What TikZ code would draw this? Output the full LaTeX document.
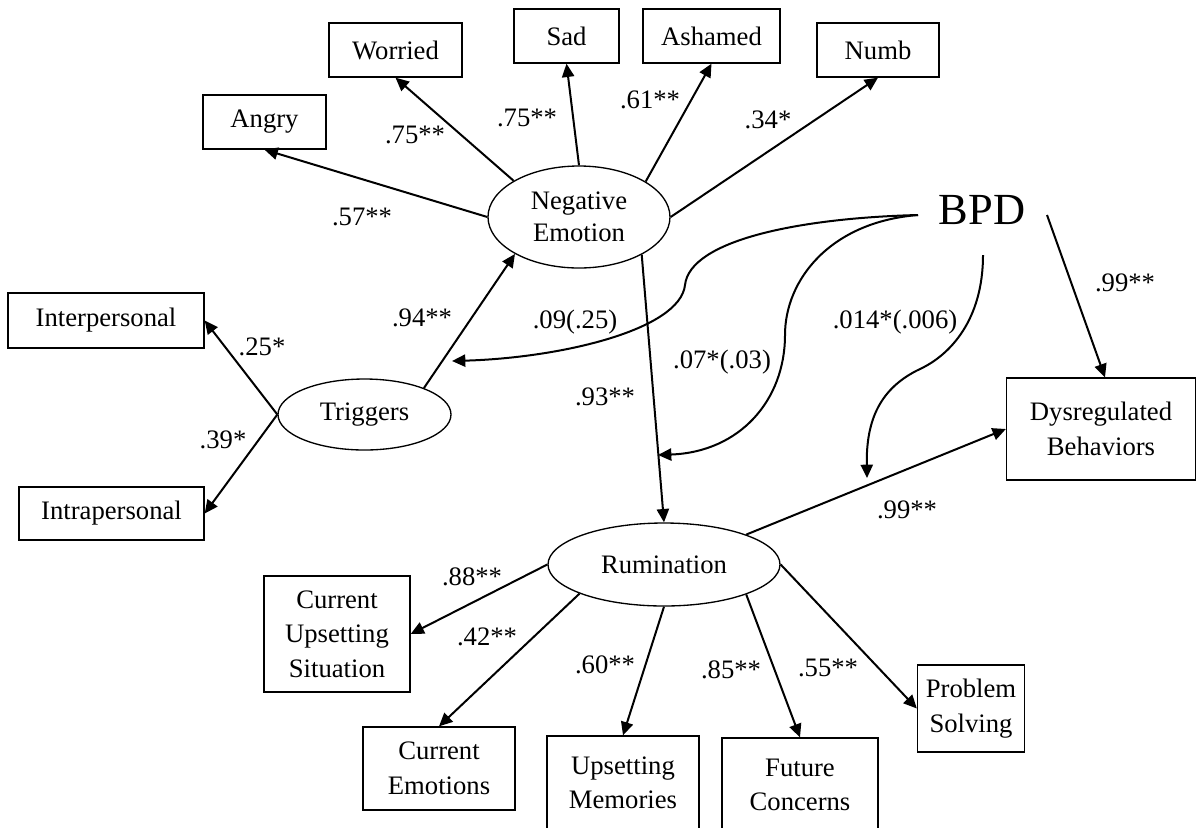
\documentclass[tikz,border=0pt]{standalone}
\usepackage{fontspec}
\setmainfont{Liberation Serif}
\usetikzlibrary{arrows.meta,shapes.geometric}
\newcommand{\px}{0.45pt}

\begin{document}
\begin{tikzpicture}[x=0.45pt,y=-0.45pt,->,>={Triangle[length=6pt,width=5.5pt]},line width=0.9pt,
    box/.style={draw,rectangle,line width=0.6pt,inner sep=0pt,align=center,font=\fontsize{12}{15.5}\selectfont},
    latent/.style={draw,ellipse,line width=0.6pt,inner sep=0pt,align=center,font=\fontsize{12}{14.5}\selectfont},
    coef/.style={inner sep=0pt,font=\fontsize{12}{14}\selectfont}]
	\useasboundingbox (0,0) rectangle (1199,827);
	\clip (0,0) rectangle (1199,827);

	% indicators of negative emotion
	\node[box,minimum width=123*\px,minimum height=54*\px] (angry) at (264.5,122) {Angry};
	\node[box,minimum width=133*\px,minimum height=54*\px] (worried) at (395.5,50) {Worried};
	\node[box,minimum width=105*\px,minimum height=54*\px] (sad) at (566.5,36) {Sad};
	\node[box,minimum width=137*\px,minimum height=54*\px] (ashamed) at (711.5,36) {Ashamed};
	\node[box,minimum width=122*\px,minimum height=54*\px] (numb) at (878,50) {Numb};

	\node[latent,minimum width=182*\px,minimum height=102*\px] (ne) at (579,217) {Negative\\Emotion};
	\node[inner sep=0pt,font=\fontsize{20}{24}\selectfont] (bpd) at (982,210) {BPD};

	\node[box,minimum width=196*\px,minimum height=55*\px] (inter) at (106,320.5) {Interpersonal};
	\node[box,minimum width=185*\px,minimum height=53*\px] (intra) at (111.5,513.5) {Intrapersonal};
	\node[latent,minimum width=173*\px,minimum height=71*\px] (trig) at (364.5,414.5) {Triggers};

	\node[box,minimum width=189*\px,minimum height=102*\px] (dys) at (1101,429) {Dysregulated\\Behaviors};
	\node[latent,minimum width=232*\px,minimum height=83*\px] (rum) at (664,564.5) {Rumination};

	% indicators of rumination
	\node[box,minimum width=146*\px,minimum height=116*\px] (cus) at (337,634) {Current\\Upsetting\\Situation};
	\node[box,minimum width=152*\px,minimum height=83*\px] (ce) at (439,768.5) {Current\\Emotions};
	\node[box,minimum width=152*\px,minimum height=94*\px] (um) at (623,783) {Upsetting\\Memories};
	\node[box,minimum width=156*\px,minimum height=94*\px] (fc) at (800,785) {Future\\Concerns};
	\node[box,minimum width=107*\px,minimum height=87*\px] (ps) at (971,708.5) {Problem\\Solving};

	\coordinate (bpdw) at (918,215);
	\coordinate (bpds) at (983,255);
	\coordinate (bpde) at (1047,215);
	\coordinate (modtn) at (452,361);
	\coordinate (modnr) at (658,455);
	\coordinate (modrd) at (867,478);

	\draw (ne.west) -- (angry.south);
	\draw (ne.151) -- (worried.south);
	\draw (ne.north) -- (sad.south);
	\draw (ne.28) -- (ashamed.south);
	\draw (ne.east) -- (numb.south);

	\draw (trig.24) -- (ne.-150);
	\draw (trig.west) -- (inter.east);
	\draw (trig.west) -- (intra.east);

	\draw (ne.-31) -- (rum.north);
	\draw (rum.20) -- (dys.west);
	\draw (bpde) -- ([xshift=1.8pt]dys.north);

	\draw (rum.west) -- (cus.east);
	\draw (rum.-161) -- (ce.north);
	\draw (rum.south) -- (um.north);
	\draw (rum.-20) -- (fc.north);
	\draw (rum.east) -- (ps.west);

	% moderation paths from BPD
	\draw (bpdw) .. controls (800,218) and (690,240) .. (685,285) .. controls (680,330) and (560,358) .. (modtn);
	\draw (bpdw) .. controls (830,222) and (785,280) .. (785,335) .. controls (785,400) and (740,452) .. (modnr);
	\draw (bpds) .. controls (983,320) and (950,355) .. (920,369) .. controls (880,388) and (866,420) .. (modrd);

	\node[coef] (l1) at (362,217) {.57**};
	\node[coef] (l2) at (415,135) {.75**};
	\node[coef] (l3) at (527,118) {.75**};
	\node[coef] (l4) at (650,100) {.61**};
	\node[coef] (l5) at (768,120) {.34*};
	\node[coef] (l6) at (262,347) {.25*};
	\node[coef] (l7) at (223,440) {.39*};
	\node[coef] (l8) at (422,318) {.94**};
	\node[coef] (l9) at (575,322) {.09(.25)};
	\node[coef] (l10) at (722,362) {.07*(.03)};
	\node[coef] (l11) at (605,397) {.93**};
	\node[coef] (l12) at (895,322) {.014*(.006)};
	\node[coef] (l13) at (1125,283) {.99**};
	\node[coef] (l14) at (907,510) {.99**};
	\node[coef] (l15) at (472,577) {.88**};
	\node[coef] (l16) at (487,637) {.42**};
	\node[coef] (l17) at (605,665) {.60**};
	\node[coef] (l18) at (731,670) {.85**};
	\node[coef] (l19) at (828,668) {.55**};
\end{tikzpicture}
\end{document}
